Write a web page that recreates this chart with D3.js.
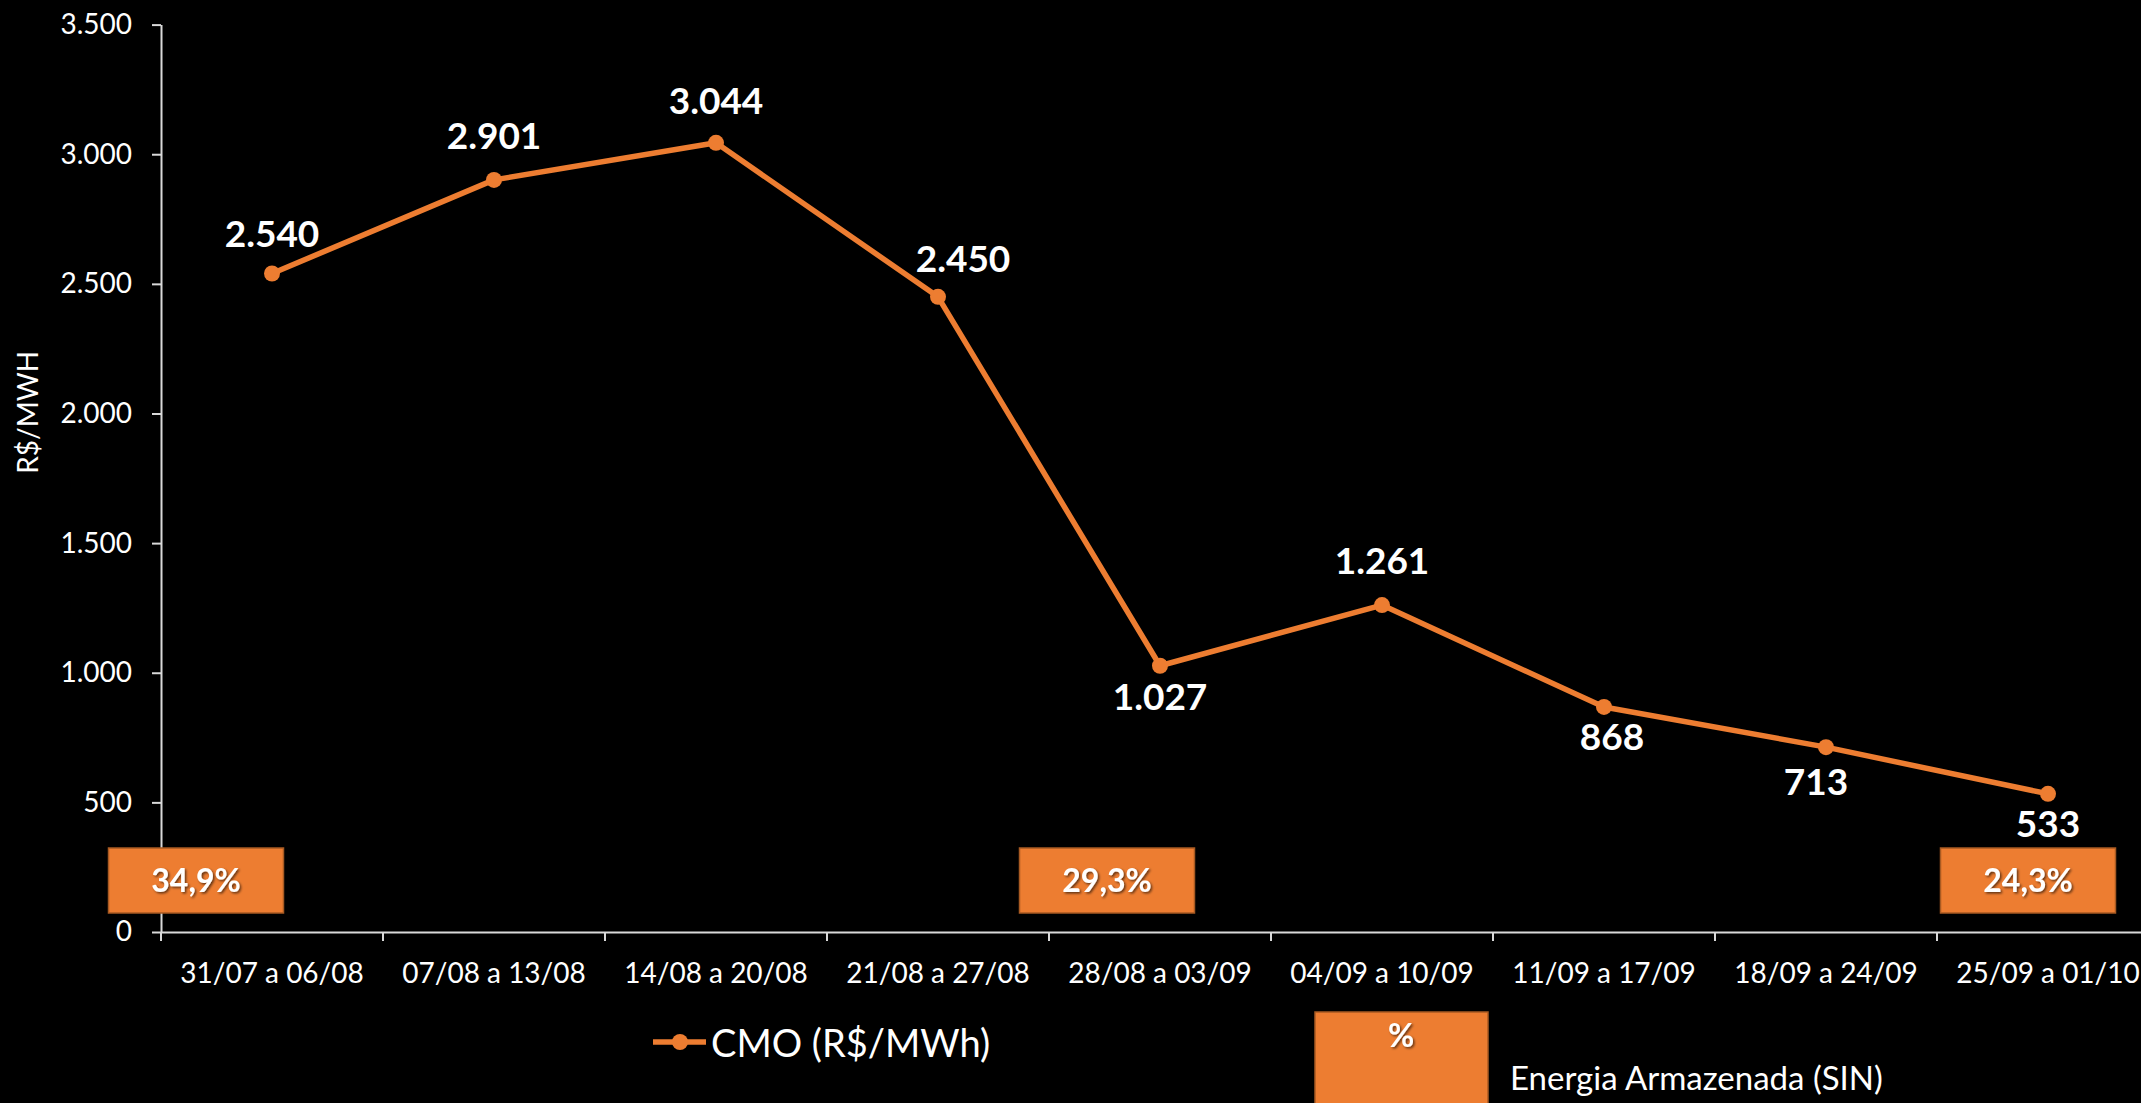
<!DOCTYPE html>
<html>
<head>
<meta charset="utf-8">
<script src="https://cdn.jsdelivr.net/npm/d3@7"></script>
<style>
  html, body { margin: 0; padding: 0; background: #000; overflow: hidden; }
  svg { display: block; font-family: Lato, "Open Sans", sans-serif; }
</style>
</head>
<body>
<script>
// weekly periods (x categories)
var weeks = ["31/07 a 06/08", "07/08 a 13/08", "14/08 a 20/08", "21/08 a 27/08", "28/08 a 03/09",
             "04/09 a 10/09", "11/09 a 17/09", "18/09 a 24/09", "25/09 a 01/10"];
// CMO, R$/MWh
var cmo = [2540, 2901, 3044, 2450, 1027, 1261, 868, 713, 533];
// y axis ticks
var yTicks = [0, 500, 1000, 1500, 2000, 2500, 3000, 3500];
// stored energy (SIN), % — shown only on some weeks
var storageWeeks = ["31/07 a 06/08", "28/08 a 03/09", "25/09 a 01/10"];
var storagePct = [34.9, 29.3, 24.3];

var W = 2141, H = 1103;
var orange = "#ED7D31", axisCol = "#d9d9d9";

var br = d3.formatLocale({ decimal: ",", thousands: ".", grouping: [3], currency: ["R$", ""] });
var fmtInt = br.format(",d");
var fmtPct = function(v) { return br.format(".1f")(v) + "%"; };

var svg = d3.select("body").append("svg")
    .attr("width", W)
    .attr("height", H);

var defs = svg.append("defs");
defs.append("filter").attr("id", "shadow")
    .attr("x", "-20%").attr("y", "-20%").attr("width", "140%").attr("height", "140%")
  .append("feDropShadow")
    .attr("dx", 1.5).attr("dy", 1.5).attr("stdDeviation", 1)
    .attr("flood-color", "#000").attr("flood-opacity", 0.6);

// scales
var x = d3.scaleBand().domain(weeks).range([161, 2159]).padding(0);
var y = d3.scaleLinear().domain([0, 3500]).range([932, 24.6]);
var cx = function(w) { return x(w) + x.bandwidth() / 2; };

// y axis
var yAxis = svg.append("g")
    .attr("transform", "translate(" + x.range()[0] + ",0)")
    .call(d3.axisLeft(y).tickValues(yTicks).tickFormat(fmtInt).tickSize(9).tickSizeOuter(0).tickPadding(20));
yAxis.select(".domain").attr("stroke", axisCol).attr("stroke-width", 2);
yAxis.selectAll(".tick line").attr("stroke", axisCol).attr("stroke-width", 2);
yAxis.selectAll(".tick text").attr("fill", "#fff").style("font-size", "28px").style("font-family", "Lato");

// x axis: labels centred in bands, ticks on band edges
var xAxis = svg.append("g")
    .attr("transform", "translate(0," + y(0) + ")")
    .call(d3.axisBottom(x).tickSize(0).tickSizeOuter(0).tickPadding(31));
xAxis.select(".domain").attr("stroke", axisCol).attr("stroke-width", 2);
xAxis.selectAll(".tick text").attr("fill", "#fff").style("font-size", "28px").style("font-family", "Lato");

var edges = weeks.map(function(w) { return x(w); }).concat([x.range()[1]]);
xAxis.selectAll(".edge").data(edges).enter().append("line")
    .attr("class", "edge")
    .attr("x1", function(d) { return d; }).attr("x2", function(d) { return d; })
    .attr("y1", 0).attr("y2", 9)
    .attr("stroke", axisCol).attr("stroke-width", 2);

// y title
svg.append("text")
    .attr("transform", "translate(27," + ((y(0) + y(3500)) / 2 - 66) + ") rotate(-90)")
    .attr("text-anchor", "middle")
    .attr("dominant-baseline", "central")
    .attr("fill", "#fff")
    .style("font-size", "28px")
    .text("R$/MWH");

// stored-energy boxes (sit near the floor of the plot)
var boxNudge = [-76, -53, -20];
var boxW = 175, boxH = 65;
var boxes = svg.selectAll(".sbox").data(storageWeeks).enter().append("g")
    .attr("class", "sbox")
    .attr("transform", function(d, i) {
        return "translate(" + (cx(d) + boxNudge[i] - boxW / 2) + "," + (y(0) - 84) + ")";
    });
boxes.append("rect")
    .attr("width", boxW).attr("height", boxH)
    .attr("fill", orange).attr("stroke", "#a85a22").attr("stroke-width", 1.5);
boxes.append("text")
    .attr("x", boxW / 2).attr("y", boxH / 2 + 11.5)
    .attr("text-anchor", "middle")
    .attr("fill", "#fff")
    .attr("filter", "url(#shadow)")
    .style("font-size", "32px").style("font-weight", "bold")
    .text(function(d, i) { return fmtPct(storagePct[i]); });

// CMO line
var pts = weeks.map(function(w, i) { return { week: w, v: cmo[i] }; });
var line = d3.line().x(function(d) { return cx(d.week); }).y(function(d) { return y(d.v); });

svg.append("path")
    .datum(pts)
    .attr("d", line)
    .attr("fill", "none")
    .attr("stroke", orange)
    .attr("stroke-width", 5.5)
    .attr("stroke-linejoin", "round");

svg.selectAll(".dot").data(pts).enter().append("circle")
    .attr("class", "dot")
    .attr("cx", function(d) { return cx(d.week); })
    .attr("cy", function(d) { return y(d.v); })
    .attr("r", 8)
    .attr("fill", orange);

// value labels, placed above or below the marker like the original
var lblNudge = [[0, -40], [0, -44], [0, -42], [25, -38], [0, 31], [0, -44], [8, 30], [-10, 35], [0, 30]];
svg.selectAll(".val").data(pts).enter().append("text")
    .attr("class", "val")
    .attr("x", function(d, i) { return cx(d.week) + lblNudge[i][0]; })
    .attr("y", function(d, i) { return y(d.v) + lblNudge[i][1] + 13.3; })
    .attr("text-anchor", "middle")
    .attr("fill", "#fff")
    .style("font-size", "37px").style("font-weight", "bold")
    .text(function(d) { return fmtInt(d.v); });

// legend
var lg = svg.append("g");
lg.append("line").attr("x1", 653).attr("x2", 706).attr("y1", 1042).attr("y2", 1042)
    .attr("stroke", orange).attr("stroke-width", 5.5);
lg.append("circle").attr("cx", 680).attr("cy", 1042).attr("r", 8).attr("fill", orange);
lg.append("text").attr("x", 711).attr("y", 1042).attr("dominant-baseline", "central")
    .attr("fill", "#fff").style("font-size", "38px").text("CMO (R$/MWh)");

lg.append("rect").attr("x", 1315).attr("y", 1012).attr("width", 173).attr("height", 110)
    .attr("fill", orange).attr("stroke", "#a85a22").attr("stroke-width", 1.5);
lg.append("text").attr("x", 1401).attr("y", 1035 + 11.5).attr("text-anchor", "middle")
    .attr("fill", "#fff").attr("filter", "url(#shadow)")
    .style("font-size", "32px").style("font-weight", "bold").text("%");
lg.append("text").attr("x", 1510).attr("y", 1077).attr("dominant-baseline", "central")
    .attr("fill", "#fff").style("font-size", "33px").text("Energia Armazenada (SIN)");
</script>
</body>
</html>
